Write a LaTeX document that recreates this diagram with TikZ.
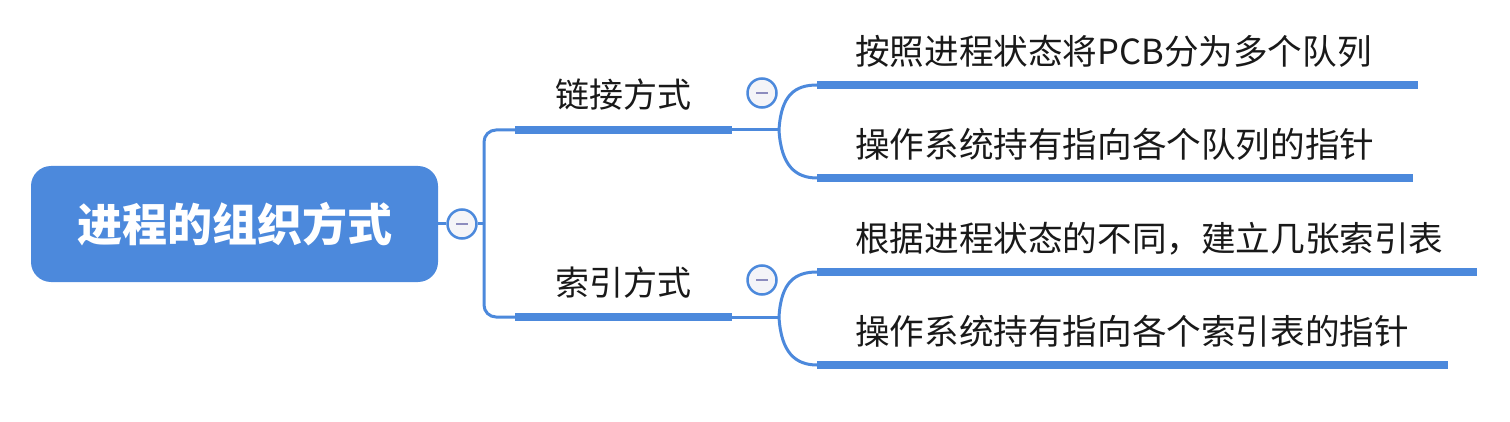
\documentclass[tikz,border=0pt]{standalone}
\usepackage{fontspec}
\setmainfont{Noto Sans CJK SC}
\usepackage{tikz}
\usetikzlibrary{calc, positioning}

\definecolor{mapblue}{RGB}{76,137,220}
\definecolor{minusgrey}{RGB}{140,140,190}
\definecolor{togglefill}{RGB}{244,244,248}

\tikzset{
  rootbox/.style={draw=none, fill=mapblue, rounded corners=20pt, text=white,
    minimum width=407pt, minimum height=116pt, inner sep=0pt,
    font=\fontsize{45}{50}\selectfont\bfseries},
  topic/.style={inner sep=0pt, text=black!90, font=\fontsize{34}{40}\selectfont},
  leaf/.style={topic, anchor=west, font=\fontsize{34.6}{40}\selectfont},
  link/.style={draw=mapblue, line width=3pt},
  underline/.style={draw=mapblue, line width=8.5pt},
  toggle/.style={circle, draw=mapblue, line width=2.5pt, fill=togglefill,
    minimum size=29pt, inner sep=0pt,
    path picture={\draw[minusgrey, line width=2.5pt]
      ([xshift=-6pt]path picture bounding box.center) --
      ([xshift=6pt]path picture bounding box.center);}}
}

\begin{document}
\begin{tikzpicture}[x=1pt, y=-1pt]
  \useasboundingbox (0,0) rectangle (1510,422);
  % root
  \node [rootbox] (root) at (234.5,224) {进程的组织方式};
  \node [toggle] (rtog) at (462,224) {};
  \coordinate (rj) at (484,224);
  \draw [link] (root.east) -- (rtog.west);
  \draw [link] (rtog.east) -- (rj);
  % branch points
  \coordinate (b1s) at (515,130);
  \coordinate (b1e) at (732,130);
  \coordinate (b1j) at (779,130);
  \coordinate (b2s) at (515,317);
  \coordinate (b2e) at (732,317);
  \coordinate (b2j) at (779,317);
  \draw [link, rounded corners=12pt] (b1s) -| (rj) |- (b2s);
  % first branch
  \node [topic] (b1) at (623,95) {链接方式};
  \node [toggle] (b1tog) at (762,93) {};
  \draw [underline] (b1s) -- (b1e);
  \draw [link] (b1e) -- (b1j);
  \coordinate (c1s) at (817,85);
  \coordinate (c1e) at (1418,85);
  \coordinate (c2s) at (817,178);
  \coordinate (c2e) at (1413,178);
  \node [leaf] (c1) at (855,51) {按照进程状态将PCB分为多个队列};
  \node [leaf] (c2) at (855,144) {操作系统持有指向各个队列的指针};
  \draw [link] (b1j) .. controls +(2,-35) and +(-22,0) .. (c1s);
  \draw [link] (b1j) .. controls +(2,35) and +(-22,0) .. (c2s);
  \draw [underline] (c1s) -- (c1e);
  \draw [underline] (c2s) -- (c2e);
  % second branch
  \node [topic] (b2) at (623,283) {索引方式};
  \node [toggle] (b2tog) at (762,280) {};
  \draw [underline] (b2s) -- (b2e);
  \draw [link] (b2e) -- (b2j);
  \coordinate (c3s) at (817,272);
  \coordinate (c3e) at (1477,272);
  \coordinate (c4s) at (817,365);
  \coordinate (c4e) at (1448,365);
  \node [leaf] (c3) at (855,239) {根据进程状态的不同，建立几张索引表};
  \node [leaf] (c4) at (855,331) {操作系统持有指向各个索引表的指针};
  \draw [link] (b2j) .. controls +(2,-35) and +(-22,0) .. (c3s);
  \draw [link] (b2j) .. controls +(2,35) and +(-22,0) .. (c4s);
  \draw [underline] (c3s) -- (c3e);
  \draw [underline] (c4s) -- (c4e);
\end{tikzpicture}
\end{document}
